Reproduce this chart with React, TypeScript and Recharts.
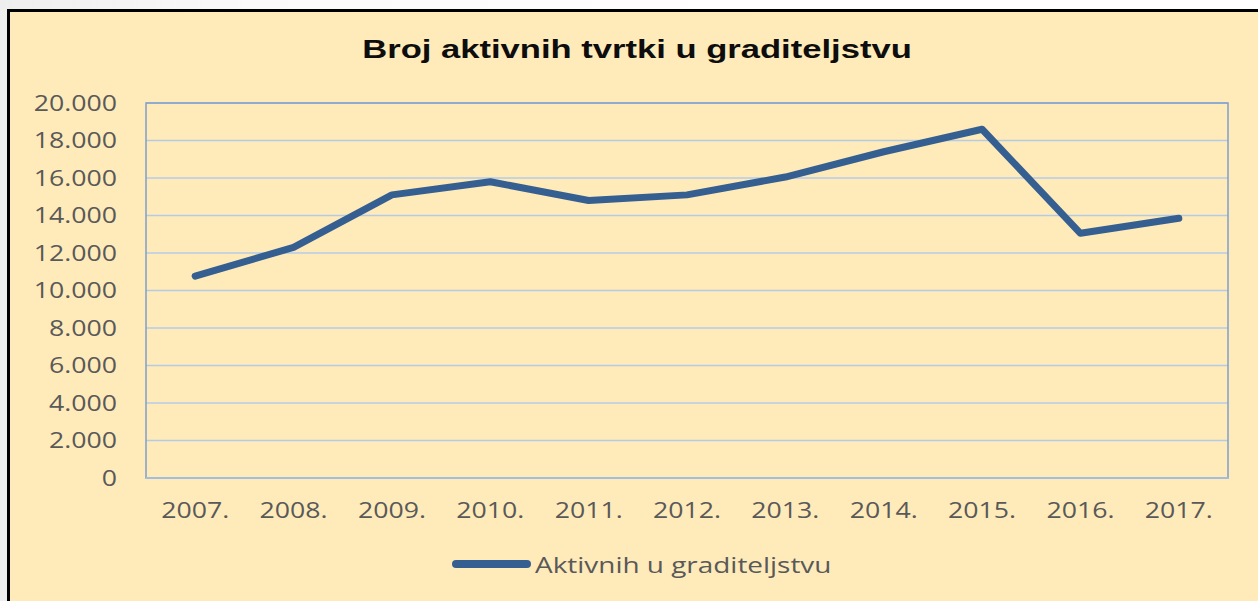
import { CartesianGrid, Legend, Line, LineChart, ReferenceArea, XAxis, YAxis } from "recharts";

const years = ["2007.", "2008.", "2009.", "2010.", "2011.", "2012.", "2013.", "2014.", "2015.", "2016.", "2017."];
const activeCompanies = [10770, 12300, 15100, 15800, 14800, 15100, 16050, 17400, 18600, 13050, 13850];
const yTicks = [0, 2000, 4000, 6000, 8000, 10000, 12000, 14000, 16000, 18000, 20000];
const seriesName = "Aktivnih u graditeljstvu";
const title = "Broj aktivnih tvrtki u graditeljstvu";

const data = years.map((year, i) => ({ year, value: activeCompanies[i] }));

const STRETCH = 1.27;
const textColor = "#595959";
const font = "'Open Sans', sans-serif";

const fmt = (n: number) => n.toString().replace(/\B(?=(\d{3})+(?!\d))/g, ".");

function YTick(props: any) {
  const { x, y, payload } = props;
  return (
    <text
      transform={`translate(${x},${y + 7.5}) scale(${STRETCH},1)`}
      textAnchor="end"
      fill={textColor}
      fontSize={21}
      fontFamily={font}
    >
      {fmt(payload.value)}
    </text>
  );
}

function XTick(props: any) {
  const { x, y, payload } = props;
  return (
    <text
      transform={`translate(${x},${y + 15}) scale(${STRETCH},1)`}
      textAnchor="middle"
      fill={textColor}
      fontSize={21}
      fontFamily={font}
    >
      {payload.value}
    </text>
  );
}

function LegendContent(props: any) {
  const entry = props.payload?.[0];
  if (!entry) return null;
  const cx = 637;
  return (
    <svg width={1258} height={50} style={{ display: "block" }}>
      <line x1={cx - 181} x2={cx - 110} y1={20} y2={20} stroke={entry.color} strokeWidth={8} strokeLinecap="round" />
      <text
        transform={`translate(${cx - 102},${29}) scale(${STRETCH},1)`}
        fill={textColor}
        fontSize={22}
        fontFamily={font}
      >
        {entry.value}
      </text>
    </svg>
  );
}

export default function App() {
  return (
    <div
      style={{
        position: "fixed",
        left: 0,
        top: 0,
        width: 1258,
        height: 601,
        overflow: "hidden",
        background: "linear-gradient(90deg, #eeeeee 0%, #fafafa 20%, #ffffff 60%)",
      }}
    >
      <div
        style={{
          position: "absolute",
          left: 7,
          top: 9,
          width: 1270,
          height: 620,
          borderLeft: "3px solid #000",
          borderTop: "3px solid #000",
          background: "#FFEBBA",
        }}
      />
      <div
        style={{
          position: "absolute",
          left: 0,
          top: 34,
          width: 1274,
          textAlign: "center",
          fontFamily: "'Liberation Sans', Arial, sans-serif",
          fontWeight: 700,
          fontSize: 26,
          lineHeight: "30px",
          color: "#0d0d0d",
          transform: "scaleX(1.33)",
        }}
      >
        {title}
      </div>
      <div style={{ position: "absolute", left: 0, top: 0 }}>
        <LineChart width={1258} height={601} data={data} margin={{ top: 103, right: 30, bottom: 83, left: 0 }}>
          <CartesianGrid yAxisId="left" vertical={false} stroke="#B4CBE8" strokeWidth={1.5} />
          <XAxis
            dataKey="year"
            scale="band"
            height={40}
            axisLine={{ stroke: "#A9C3E6", strokeWidth: 1.5 }}
            tickLine={false}
            tickSize={0}
            tickMargin={25}
            tick={<XTick />}
            interval={0}
          />
          <YAxis
            yAxisId="left"
            width={146}
            domain={[0, 20000]}
            ticks={yTicks}
            axisLine={false}
            tickLine={false}
            tickSize={0}
            tickMargin={29}
            tick={<YTick />}
            interval={0}
          />
          <ReferenceArea yAxisId="left" y1={0} y2={20000} fill="none" stroke="#7F9FCB" strokeWidth={1.5} ifOverflow="visible" />
          <Line
            yAxisId="left"
            type="linear"
            dataKey="value"
            name={seriesName}
            stroke="#355F91"
            strokeWidth={7}
            strokeLinejoin="round"
            strokeLinecap="round"
            dot={false}
            activeDot={false}
            isAnimationActive={false}
          />
          <Legend
            layout="vertical"
            align="center"
            verticalAlign="middle"
            content={<LegendContent />}
            wrapperStyle={{ position: "absolute", left: 0, top: 544, width: 1258, height: 50 }}
          />
        </LineChart>
      </div>
    </div>
  );
}
